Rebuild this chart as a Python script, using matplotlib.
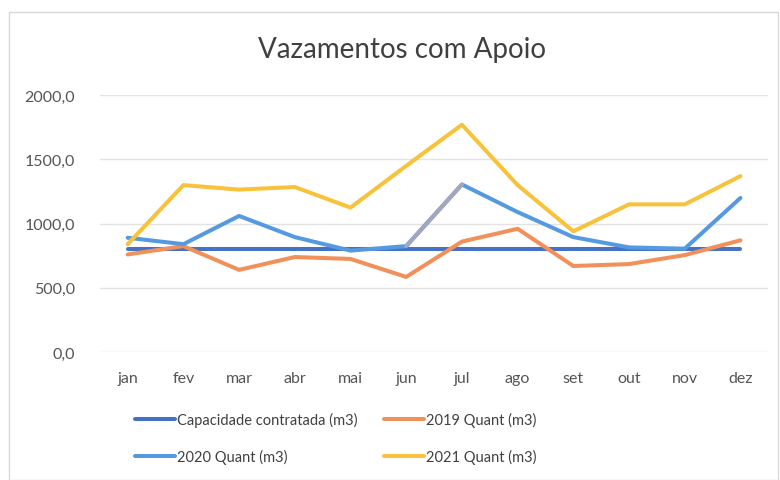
import matplotlib
matplotlib.use("Agg")
import matplotlib.pyplot as plt
from matplotlib.patches import Rectangle
from matplotlib.ticker import FuncFormatter

months = ["jan", "fev", "mar", "abr", "mai", "jun", "jul", "ago", "set", "out", "nov", "dez"]
capacidade = [800, 800, 800, 800, 800, 800, 800, 800, 800, 800, 800, 800]
q2019 = [760, 825, 640, 740, 725, 585, 860, 960, 670, 685, 755, 870]
q2020 = [890, 840, 1060, 895, 790, 825, 1305, 1090, 895, 815, 805, 1200]
q2021 = [840, 1300, 1265, 1285, 1125, 1450, 1770, 1300, 940, 1150, 1150, 1370]
yticks = [0, 500, 1000, 1500, 2000]

plt.rcParams['font.family'] = ['Lato', 'DejaVu Sans']

fig = plt.figure(figsize=(7.8, 4.81), dpi=100)
ax = fig.add_axes([0.128, 0.266, 0.857, 0.534])

x = list(range(len(months)))
lw = 2.9
c_cap = "#4472C4"
c19 = "#F1905A"
c20 = "#559AE0"
c21 = "#F8C23A"

l1, = ax.plot(x, capacidade, color=c_cap, lw=lw, solid_capstyle='round', zorder=3)
l2, = ax.plot(x, q2019, color=c19, lw=lw, solid_capstyle='round', zorder=4)
l3, = ax.plot(x, q2020, color=c20, lw=lw, solid_capstyle='round', zorder=5)
ax.plot(x[5:7], q2020[5:7], color="#A3A6C0", lw=lw, solid_capstyle='round', zorder=5)
l4, = ax.plot(x, q2021, color=c21, lw=lw, solid_capstyle='round', zorder=6)

ax.set_xlim(-0.5, 11.5)
ax.set_ylim(0, 2000)
ax.set_yticks(yticks)
ax.yaxis.set_major_formatter(FuncFormatter(lambda v, p: f"{v:.1f}".replace(".", ",")))
ax.set_xticks(x)
ax.set_xticklabels(months)
ax.grid(axis='y', color="#E3E3E3", lw=1)
ax.set_axisbelow(True)
for s in ax.spines.values():
    s.set_visible(False)
ax.tick_params(axis='both', length=0, labelsize=11.5, colors="#555555")
ax.tick_params(axis='y', pad=18)
ax.tick_params(axis='x', pad=14)

fig.text(0.515, 0.897, "Vazamentos com Apoio", ha='center', va='center',
         fontsize=20, color="#404040")

leg = fig.legend([l1, l3, l2, l4],
                 ["Capacidade contratada (m3)", "2020 Quant (m3)",
                  "2019 Quant (m3)", "2021 Quant (m3)"],
                 ncol=2, loc='center left', bbox_to_anchor=(0.165, 0.087),
                 frameon=False, fontsize=10.5, labelcolor="#404040",
                 handlelength=2.8, handletextpad=0.1, columnspacing=1.8,
                 labelspacing=1.5, borderaxespad=0)

fig.patches.append(Rectangle((0.012, 0.0), 0.985, 0.972, transform=fig.transFigure,
                             fill=False, edgecolor="#D9D9D9", lw=1))

fig.savefig("out.png", dpi=100)
